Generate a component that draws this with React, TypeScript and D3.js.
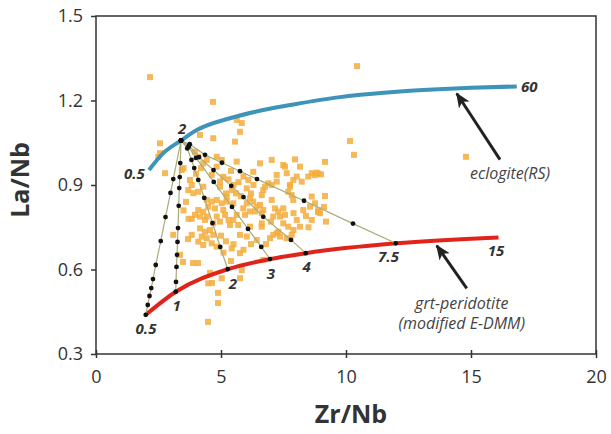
import React, { useEffect, useRef } from "react";
import * as d3 from "d3";

const xTicks = [0, 5, 10, 15, 20];
const yTicks = [0.3, 0.6, 0.9, 1.2, 1.5];

// samples (orange squares)
const sampleZrNb = [
  2.16, 4.68, 10.44, 5.63, 5.83, 5.76, 14.8, 10.16, 10.32, 9.16, 8.9, 8.75, 9.0, 9.16, 9.12, 8.88,
  4.48, 4.88, 4.88, 4.56, 4.64, 3.36, 3.48, 3.68, 3.88, 4.08, 2.56, 2.56, 2.49, 2.76, 3.43, 4.16,
  4.69, 5.56, 5.63, 4.83, 5.03, 4.43, 3.96, 4.09, 4.29, 3.76, 3.83, 3.69, 3.89, 4.09, 4.29, 4.63,
  4.83, 5.09, 4.96, 7.03, 7.49, 7.56, 7.96, 8.16, 8.63, 8.83, 8.49, 7.23, 7.63, 7.89, 8.23, 6.09,
  6.89, 7.03, 6.76, 6.69, 6.63, 7.03, 7.76, 7.69, 7.83, 7.89, 8.63, 8.76, 8.56, 8.89, 5.49, 6.03,
  6.29, 6.43, 6.56, 6.16, 5.89, 6.36, 6.63, 5.96, 5.63, 7.16, 7.29, 7.49, 7.56, 7.09, 7.36, 6.63,
  7.09, 7.23, 7.36, 6.96, 5.76, 7.69, 8.16, 7.83, 7.49, 5.43, 5.76, 6.69, 5.83, 5.76, 4.43, 4.63,
  4.83, 5.03, 5.23, 4.49, 4.76, 5.09, 4.29, 4.09, 3.96, 4.43, 4.83, 5.16, 3.83, 4.16, 4.36, 4.69,
  4.96, 5.3, 5.49, 5.69, 5.36, 4.16, 4.36, 4.56, 4.23, 4.43, 4.69, 4.09, 4.29, 4.63, 4.83, 3.83,
  3.09, 4.49, 6.03, 6.43, 6.63, 6.16, 7.29, 7.63, 8.03, 8.29, 8.63, 8.96, 8.03, 7.76, 7.23, 6.56,
  6.29, 6.03, 6.16, 6.69, 5.23, 5.43, 4.96, 5.03, 5.3, 5.5, 5.7, 5.9, 5.2, 5.6, 5.8, 6.3,
  6.2, 5.4, 3.5, 3.6, 3.7, 3.5, 4.2, 4.0, 5.0, 5.2, 5.5, 5.1, 5.4, 5.9, 6.2, 6.8,
  7.0, 7.9, 8.4, 9.2, 7.9, 8.5,
];
const sampleLaNb = [
  1.283, 1.195, 1.322, 1.131, 1.12, 1.089, 1.0, 1.056, 1.007, 0.982, 0.94, 0.935, 0.938, 0.861, 0.822, 0.804,
  0.414, 0.481, 0.517, 0.588, 0.552, 0.652, 0.627, 0.708, 0.623, 0.623, 1.048, 1.013, 1.0, 0.942, 0.953, 1.078,
  1.066, 1.054, 0.983, 1.0, 0.989, 0.989, 1.018, 1.0, 0.977, 0.918, 0.9, 0.882, 0.871, 0.876, 0.894, 0.936,
  0.965, 0.929, 0.912, 0.989, 0.971, 0.965, 0.991, 0.965, 0.942, 0.944, 0.93, 0.936, 0.942, 0.918, 0.912, 0.918,
  0.906, 0.9, 0.894, 0.882, 0.864, 0.847, 0.9, 0.876, 0.864, 0.847, 0.859, 0.835, 0.823, 0.811, 0.835, 0.835,
  0.841, 0.823, 0.829, 0.806, 0.817, 0.806, 0.8, 0.794, 0.794, 0.817, 0.806, 0.817, 0.794, 0.788, 0.788, 0.752,
  0.723, 0.729, 0.717, 0.711, 0.723, 0.752, 0.752, 0.723, 0.764, 0.675, 0.658, 0.634, 0.598, 0.569, 0.847, 0.841,
  0.847, 0.835, 0.841, 0.823, 0.817, 0.811, 0.805, 0.811, 0.794, 0.788, 0.788, 0.794, 0.78, 0.788, 0.776, 0.764,
  0.77, 0.776, 0.776, 0.758, 0.758, 0.746, 0.734, 0.74, 0.717, 0.711, 0.723, 0.699, 0.687, 0.693, 0.681, 0.723,
  0.723, 0.551, 0.717, 0.705, 0.764, 0.752, 0.734, 0.711, 0.776, 0.811, 0.776, 0.8, 0.93, 0.894, 0.912, 0.977,
  0.947, 0.888, 0.853, 0.811, 0.859, 0.882, 0.894, 0.569, 0.92, 0.9, 0.91, 0.93, 0.87, 0.87, 0.86, 0.9,
  0.87, 0.95, 0.96, 0.84, 0.78, 0.81, 0.96, 0.94, 0.72, 0.7, 0.69, 0.66, 0.63, 0.67, 0.69, 0.69,
  0.77, 0.8, 0.79, 0.77, 0.74, 0.75,
];

// melting curves
const eclogiteZrNb = [2.12, 2.69, 3.4, 4.03, 5.36, 6.69, 7.9, 9.76, 10.83, 12.16, 13.49, 15, 16.83];
const eclogiteLaNb = [0.953, 1.013, 1.058, 1.095, 1.137, 1.166, 1.186, 1.212, 1.222, 1.232, 1.239, 1.245, 1.25];
const peridotiteZrNb = [1.99, 3.19, 5.27, 6.96, 8.39, 11.99, 16.1];
const peridotiteLaNb = [0.439, 0.521, 0.601, 0.637, 0.658, 0.693, 0.714];

// melting degree labels (%)
const eclogiteTags = ["0.5", "2", "60"];
const eclogiteTagAt = [[1.95, 0.94], [3.45, 1.1], [17.0, 1.25]];
const peridotiteTags = ["0.5", "1", "2", "3", "4", "7.5", "15"];
const peridotiteTagAt = [[2.0, 0.39], [3.23, 0.47], [5.48, 0.55], [7.0, 0.585], [8.43, 0.61], [11.7, 0.645], [16.0, 0.665]];

// mixing lines (eclogite 2% melt -> peridotite melts)
const mix05 = [[3.4, 1.058], [3.09, 0.921], [2.98, 0.872], [2.78, 0.786], [2.59, 0.701], [2.39, 0.616], [2.28, 0.566], [2.21, 0.534], [2.14, 0.506], [2.07, 0.474], [1.99, 0.439]];
const mix1 = [[3.4, 1.058], [3.37, 0.978], [3.35, 0.928], [3.33, 0.889], [3.31, 0.826], [3.28, 0.747], [3.26, 0.698], [3.24, 0.652], [3.22, 0.609], [3.2, 0.556], [3.19, 0.521]];
const mix2 = [[3.4, 1.058], [3.65, 1.03], [3.82, 0.989], [3.93, 0.96], [4.09, 0.918], [4.33, 0.854], [4.66, 0.765], [4.97, 0.68], [5.27, 0.601]];
const mix3 = [[3.4, 1.058], [3.7, 1.035], [4.0, 0.996], [4.71, 0.911], [5.44, 0.822], [6.08, 0.744], [6.61, 0.68], [6.96, 0.637]];
const mix4 = [[3.4, 1.058], [3.72, 1.04], [4.12, 0.999], [4.7, 0.953], [5.41, 0.897], [5.9, 0.857], [6.69, 0.787], [7.8, 0.705], [8.39, 0.658]];
const mix75 = [[3.4, 1.058], [3.75, 1.045], [4.36, 1.007], [5.04, 0.979], [5.76, 0.949], [6.44, 0.921], [8.32, 0.844], [10.28, 0.763], [11.99, 0.693]];
const mixLines = [mix05, mix1, mix2, mix3, mix4, mix75];

export default function App() {
  const ref = useRef<SVGSVGElement>(null);

  useEffect(() => {
    const svg = d3.select(ref.current);
    svg.selectAll("*").remove();
    const font = "'Open Sans', sans-serif";
    const ink = "#333";

    const x = d3.scaleLinear().domain([0, 20]).range([96, 596]);
    const y = d3.scaleLinear().domain([0.3, 1.5]).range([354, 16]);

    const defs = svg.append("defs");
    defs
      .append("marker")
      .attr("id", "head")
      .attr("viewBox", "0 0 12 10")
      .attr("refX", 11)
      .attr("refY", 5)
      .attr("markerWidth", 15)
      .attr("markerHeight", 13)
      .attr("markerUnits", "userSpaceOnUse")
      .attr("orient", "auto")
      .append("path")
      .attr("d", "M0,0 L12,5 L0,10 L3,5 Z")
      .attr("fill", "#222");

    // frame
    svg
      .append("rect")
      .attr("x", x(0))
      .attr("y", y(1.5))
      .attr("width", x(20) - x(0))
      .attr("height", y(0.3) - y(1.5))
      .attr("fill", "none")
      .attr("stroke", ink)
      .attr("stroke-width", 1.5);

    const xAxis = svg
      .append("g")
      .attr("transform", `translate(0,${y(0.3)})`)
      .call(d3.axisBottom(x).tickValues(xTicks).tickSize(4).tickPadding(12).tickFormat(d3.format("d")));
    const yAxis = svg
      .append("g")
      .attr("transform", `translate(${x(0)},0)`)
      .call(d3.axisLeft(y).tickValues(yTicks).tickSize(5).tickPadding(8).tickFormat(d3.format(".1f")));
    [xAxis, yAxis].forEach((g) => {
      g.select(".domain").remove();
      g.selectAll("line").attr("stroke", ink).attr("stroke-width", 1.5);
      g.selectAll("text").attr("font-family", font).attr("font-size", 18).attr("fill", ink);
    });
    xAxis.selectAll(".tick line").attr("y1", -4);

    svg
      .append("text")
      .attr("x", x(10.2))
      .attr("y", 423)
      .attr("text-anchor", "middle")
      .attr("font-family", font)
      .attr("font-weight", "bold")
      .attr("font-size", 25)
      .attr("fill", ink)
      .text("Zr/Nb");
    svg
      .append("text")
      .attr("transform", `translate(29,${y(0.9) - 5}) rotate(-90)`)
      .attr("text-anchor", "middle")
      .attr("font-family", font)
      .attr("font-weight", "bold")
      .attr("font-size", 25)
      .attr("fill", ink)
      .text("La/Nb");

    // samples
    svg
      .append("g")
      .selectAll("rect")
      .data(sampleZrNb)
      .join("rect")
      .attr("x", (d) => x(d) - 3)
      .attr("y", (d, i) => y(sampleLaNb[i]) - 3)
      .attr("width", 6)
      .attr("height", 6)
      .attr("fill", "#f5ad3c")
      .attr("opacity", 0.85);

    const line = d3
      .line<number[]>()
      .x((d) => x(d[0]))
      .y((d) => y(d[1]));

    // melting curves
    const curve = d3
      .line<number>()
      .x((d) => x(d))
      .curve(d3.curveMonotoneX);
    svg
      .append("path")
      .attr("d", curve.y((d, i) => y(eclogiteLaNb[i]))(eclogiteZrNb))
      .attr("fill", "none")
      .attr("stroke", "#3d93b8")
      .attr("stroke-width", 4);
    svg
      .append("path")
      .attr("d", curve.y((d, i) => y(peridotiteLaNb[i]))(peridotiteZrNb))
      .attr("fill", "none")
      .attr("stroke", "#e0241b")
      .attr("stroke-width", 4);

    // mixing lines
    svg
      .append("g")
      .selectAll("path")
      .data(mixLines)
      .join("path")
      .attr("d", (d) => line(d))
      .attr("fill", "none")
      .attr("stroke", "#a8ad78")
      .attr("stroke-width", 1.2);
    svg
      .append("g")
      .selectAll("circle")
      .data(mixLines.flat())
      .join("circle")
      .attr("cx", (d) => x(d[0]))
      .attr("cy", (d) => y(d[1]))
      .attr("r", 2.4)
      .attr("fill", "#111");

    // melt % labels
    const tag = (txt: string, p: number[], anchor: string) =>
      svg
        .append("text")
        .attr("x", x(p[0]))
        .attr("y", y(p[1]))
        .attr("dy", "0.35em")
        .attr("text-anchor", anchor)
        .attr("font-family", font)
        .attr("font-style", "italic")
        .attr("font-weight", "bold")
        .attr("font-size", 15)
        .attr("fill", ink)
        .text(txt);
    eclogiteTags.forEach((t, i) => tag(t, eclogiteTagAt[i], i === 0 ? "end" : i === 2 ? "start" : "middle"));
    peridotiteTags.forEach((t, i) => tag(t, peridotiteTagAt[i], "middle"));

    // annotations
    const note = (lines: string[], cx: number, cy: number) =>
      lines.forEach((s, i) =>
        svg
          .append("text")
          .attr("x", x(cx))
          .attr("y", y(cy) + i * 20)
          .attr("text-anchor", "middle")
          .attr("font-family", font)
          .attr("font-style", "italic")
          .attr("font-size", 16)
          .attr("fill", "#444")
          .text(s)
      );
    note(["eclogite(RS)"], 16.56, 0.92);
    note(["grt-peridotite", "(modified E-DMM)"], 14.63, 0.46);

    const arrow = (a: number[], b: number[]) =>
      svg
        .append("line")
        .attr("x1", x(a[0]))
        .attr("y1", y(a[1]))
        .attr("x2", x(b[0]))
        .attr("y2", y(b[1]))
        .attr("stroke", "#222")
        .attr("stroke-width", 3)
        .attr("marker-end", "url(#head)");
    arrow([16.16, 0.99], [14.43, 1.225]);
    arrow([14.83, 0.533], [13.63, 0.685]);
  }, []);

  return (
    <svg
      ref={ref}
      width={611}
      height={434}
      style={{ position: "absolute", left: 0, top: 0, background: "#fff" }}
    />
  );
}
